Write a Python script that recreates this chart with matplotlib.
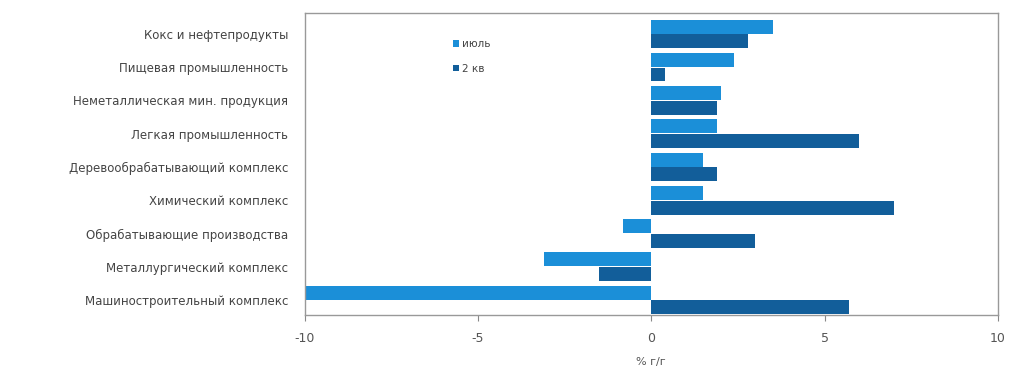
import numpy as np
import matplotlib
matplotlib.use("Agg")
import matplotlib.pyplot as plt

categories = [
    "Кокс и нефтепродукты",
    "Пищевая промышленность",
    "Неметаллическая мин. продукция",
    "Легкая промышленность",
    "Деревообрабатывающий комплекс",
    "Химический комплекс",
    "Обрабатывающие производства",
    "Металлургический комплекс",
    "Машиностроительный комплекс",
]
july = [3.5, 2.4, 2.0, 1.9, 1.5, 1.5, -0.8, -3.1, -10.3]
q2 = [2.8, 0.4, 1.9, 6.0, 1.9, 7.0, 3.0, -1.5, 5.7]
series_names = ["июль", "2 кв"]
xticks = [-10, -5, 0, 5, 10]

c_july = "#1b8fd8"
c_q2 = "#125e9a"

fig = plt.figure(figsize=(10.12, 3.71), dpi=100)
ax = fig.add_axes([0.301, 0.151, 0.685, 0.814])

y = np.arange(len(categories))[::-1]
h = 0.42
ax.barh(y + 0.22, july, height=h, color=c_july, label=series_names[0])
ax.barh(y - 0.22, q2, height=h, color=c_q2, label=series_names[1])

ax.set_xlim(-10, 10)
ax.set_ylim(-0.45, 8.63)
ax.set_yticks(y)
ax.set_yticklabels(categories, fontsize=8.5, color="#444444")
ax.tick_params(axis="y", length=0, pad=12)
ax.set_xticks(xticks)
ax.set_xticklabels([str(t) for t in xticks], fontsize=9, color="#555555")
ax.tick_params(axis="x", length=4, color="#888888", pad=8)
ax.set_xlabel("% г/г", fontsize=8, color="#555555", labelpad=9)
for s in ax.spines.values():
    s.set_color("#999999")
    s.set_linewidth(1.0)

ax.legend(loc="upper left", bbox_to_anchor=(0.2, 0.945), frameon=False,
          fontsize=7.5, handlelength=0.6, handleheight=0.6, labelspacing=1.4,
          handletextpad=0.3, labelcolor="#444444")

fig.savefig("out.png", dpi=100)
